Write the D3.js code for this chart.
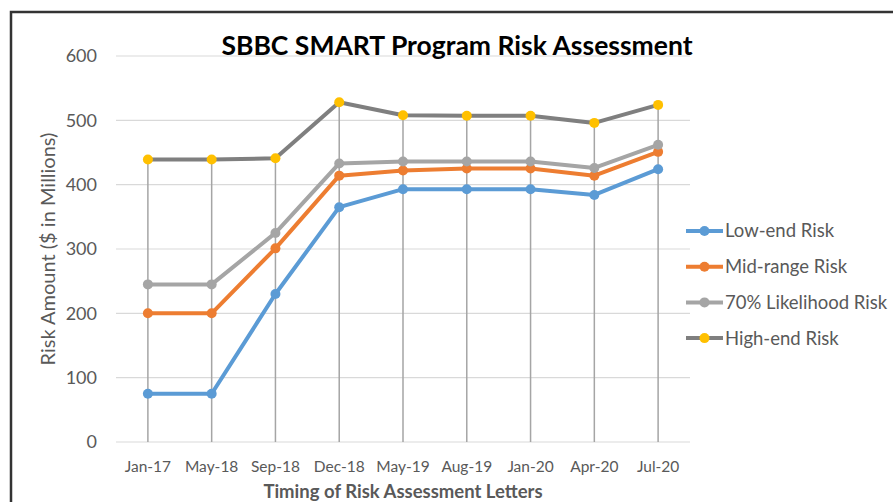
<!DOCTYPE html>
<html>
<head>
<meta charset="utf-8">
<script src="https://cdn.jsdelivr.net/npm/d3@7"></script>
<style>
  body { margin: 0; background: #fff; }
  text { font-family: Lato, "Open Sans", sans-serif; }
</style>
</head>
<body>
<svg id="chart1"></svg>
<script>
var w = 893;
var h = 502;
let dates = ["Jan-17", "May-18", "Sep-18", "Dec-18", "May-19", "Aug-19", "Jan-20", "Apr-20", "Jul-20"];
let lowEnd = [75, 75, 230, 365, 393, 393, 393, 384, 424];
let midRange = [200, 200, 301, 414, 422, 425, 425, 414, 451];
let likely70 = [245, 245, 325, 433, 436, 436, 436, 426, 462];
let highEnd = [439, 439, 441, 528, 508, 507, 507, 496, 524];
let yTicks = [0, 100, 200, 300, 400, 500, 600];
let seriesNames = ["Low-end Risk", "Mid-range Risk", "70% Likelihood Risk", "High-end Risk"];
let lineColors = ["#5b9bd5", "#ed7d31", "#a5a5a5", "#7f7f7f"];
let dotColors = ["#5b9bd5", "#ed7d31", "#a5a5a5", "#ffc000"];
let allSeries = [lowEnd, midRange, likely70, highEnd];

var svg = d3.select("#chart1")
    .attr("width", w)
    .attr("height", h);

// outer frame (only left/top edges show in the picture)
svg.append("rect")
    .attr("x", 11).attr("y", 12)
    .attr("width", 900).attr("height", 520)
    .attr("fill", "none")
    .attr("stroke", "#333")
    .attr("stroke-width", 2.5);

var x = d3.scalePoint()
    .domain(dates)
    .range([116, 690])
    .padding(0.5);
var y = d3.scaleLinear()
    .domain([0, 600])
    .range([442, 56]);

// horizontal gridlines
svg.append("g")
    .selectAll("line")
    .data(yTicks)
    .enter()
    .append("line")
    .attr("x1", 116).attr("x2", 690)
    .attr("y1", d => y(d)).attr("y2", d => y(d))
    .attr("stroke", "#d9d9d9")
    .attr("stroke-width", 1.2);

// y tick labels
svg.append("g")
    .selectAll("text")
    .data(yTicks)
    .enter()
    .append("text")
    .attr("x", 97)
    .attr("y", d => y(d))
    .attr("dy", "0.35em")
    .attr("text-anchor", "end")
    .attr("fill", "#595959")
    .style("font-size", "18px")
    .text(d => d);

// x tick labels
svg.append("g")
    .selectAll("text")
    .data(dates)
    .enter()
    .append("text")
    .attr("x", d => x(d))
    .attr("y", 472)
    .attr("text-anchor", "middle")
    .attr("fill", "#595959")
    .style("font-size", "15.5px")
    .text(d => d);

// drop lines from highest value to axis
svg.append("g")
    .selectAll("line")
    .data(dates)
    .enter()
    .append("line")
    .attr("x1", d => x(d)).attr("x2", d => x(d))
    .attr("y1", (d, i) => y(highEnd[i]))
    .attr("y2", y(0))
    .attr("stroke", "#a5a5a5")
    .attr("stroke-width", 1.5);

var line = d3.line()
    .x((d, i) => x(dates[i]))
    .y(d => y(d));

allSeries.forEach((s, k) => {
    svg.append("path")
        .attr("d", line(s))
        .attr("fill", "none")
        .attr("stroke", lineColors[k])
        .attr("stroke-width", 4)
        .attr("stroke-linejoin", "round");
    svg.append("g")
        .selectAll("circle")
        .data(s)
        .enter()
        .append("circle")
        .attr("cx", (d, i) => x(dates[i]))
        .attr("cy", d => y(d))
        .attr("r", 5)
        .attr("fill", dotColors[k]);
});

// title
svg.append("text")
    .attr("x", 457)
    .attr("y", 55)
    .attr("text-anchor", "middle")
    .attr("font-weight", "bold")
    .attr("fill", "#000")
    .style("font-size", "26.5px")
    .text("SBBC SMART Program Risk Assessment");

// axis titles
svg.append("text")
    .attr("transform", "translate(55,249) rotate(-90)")
    .attr("text-anchor", "middle")
    .attr("fill", "#595959")
    .style("font-size", "20px")
    .text("Risk Amount ($ in Millions)");
svg.append("text")
    .attr("x", 403)
    .attr("y", 498)
    .attr("text-anchor", "middle")
    .attr("font-weight", "bold")
    .attr("fill", "#595959")
    .style("font-size", "18.5px")
    .text("Timing of Risk Assessment Letters");

// legend
var legend = svg.append("g")
    .selectAll("g")
    .data(seriesNames)
    .enter()
    .append("g")
    .attr("transform", (d, i) => `translate(686,${231 + i * 35.7})`);
legend.append("line")
    .attr("x1", 0).attr("x2", 37)
    .attr("stroke", (d, i) => lineColors[i])
    .attr("stroke-width", 4);
legend.append("circle")
    .attr("cx", 18.5)
    .attr("r", 5)
    .attr("fill", (d, i) => dotColors[i]);
legend.append("text")
    .attr("x", 39)
    .attr("dy", "0.35em")
    .attr("fill", "#595959")
    .style("font-size", "18.5px")
    .text(d => d);
</script>
</body>
</html>
